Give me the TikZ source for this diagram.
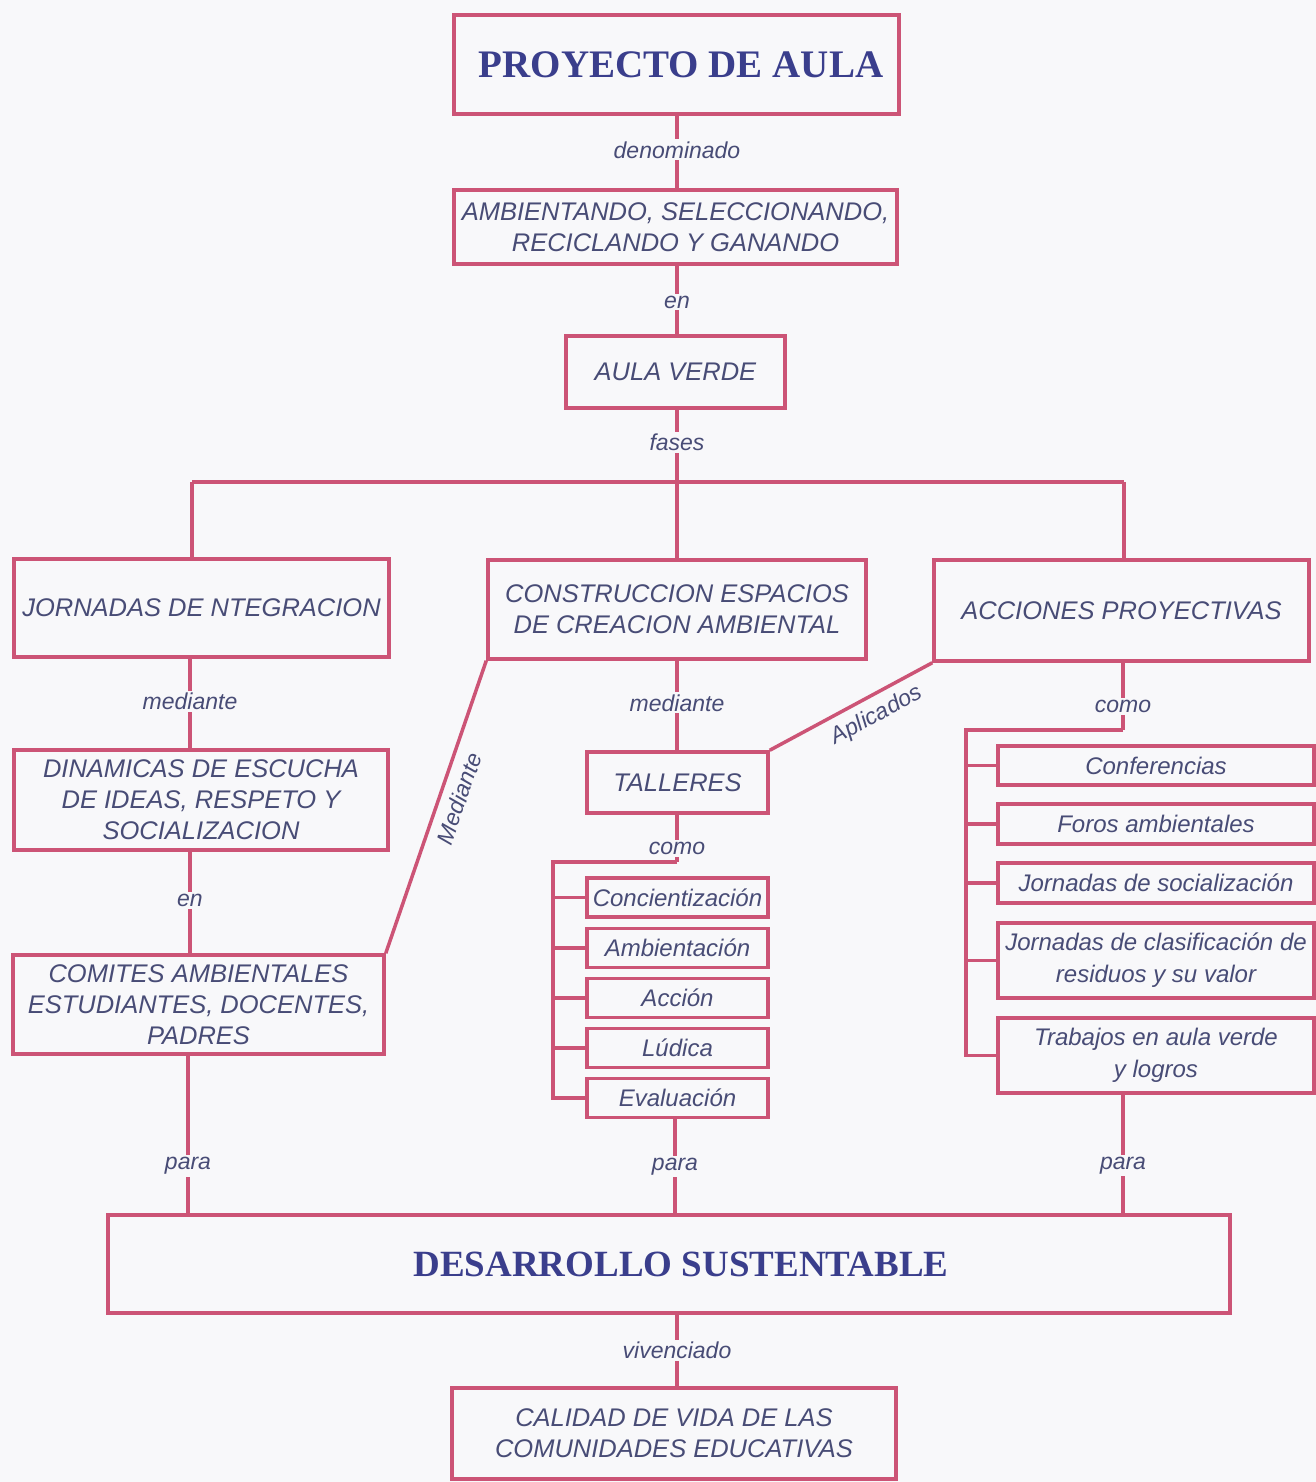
\documentclass[tikz,border=0pt]{standalone}
\usepackage{fontspec}
\setmainfont{Liberation Sans}
\newfontfamily\titlefont{Liberation Serif}
\definecolor{bg}{RGB}{248,248,250}
\definecolor{pinkline}{RGB}{204,84,118}
\definecolor{txt}{RGB}{72,76,118}
\definecolor{navy}{RGB}{58,62,140}
\tikzset{
  box/.style={draw=pinkline, line width=3.5pt, fill=bg, inner sep=0pt, align=center,
    text=txt, font=\itshape\fontsize{25.5}{31}\selectfont},
  itembox/.style={box, font=\itshape\fontsize{24}{32}\selectfont},
  titlebox/.style={box, text=navy, font=\titlefont\bfseries\fontsize{39}{44}\selectfont},
  conn/.style={draw=pinkline, line width=3.5pt},
  lbl/.style={fill=bg, inner sep=2pt, text=txt, font=\itshape\fontsize{23}{25}\selectfont},
  slbl/.style={text=txt, font=\itshape\fontsize{23}{25}\selectfont},
}
\begin{document}
\begin{tikzpicture}[x=1pt,y=-1pt]
\useasboundingbox (0,0) rectangle (1316,1482);
\fill[bg] (0,0) rectangle (1316,1482);

% top chain
\node[titlebox, minimum width=445, minimum height=99] (pa) at (676.5,64.5) {\hspace*{9pt}PROYECTO DE AULA};
\node[box, minimum width=443, minimum height=74] (amb) at (675.5,227) {AMBIENTANDO, SELECCIONANDO,\\RECICLANDO Y GANANDO};
\node[box, minimum width=219, minimum height=72] (aula) at (675.5,372) {AULA VERDE};

% three phases
\node[box, minimum width=375, minimum height=98] (jorn) at (201.5,608) {JORNADAS DE NTEGRACION};
\node[box, minimum width=378, minimum height=99] (cons) at (677,609.5) {CONSTRUCCION ESPACIOS\\DE CREACION AMBIENTAL};
\node[box, minimum width=375, minimum height=101] (acc) at (1121.5,610.5) {ACCIONES PROYECTIVAS};

% left column
\node[box, minimum width=374, minimum height=100] (din) at (201,800) {DINAMICAS DE ESCUCHA\\DE IDEAS, RESPETO Y\\SOCIALIZACION};
\node[box, minimum width=371, minimum height=99] (com) at (198.5,1004.5) {COMITES AMBIENTALES\\ESTUDIANTES, DOCENTES,\\PADRES};

% middle column
\node[box, minimum width=181, minimum height=61] (tall) at (677.5,782.5) {TALLERES};
\node[itembox, minimum width=181, minimum height=39] (i1) at (677.5,897.5) {Concientización};
\node[itembox, minimum width=181, minimum height=39] (i2) at (677.5,948) {Ambientación};
\node[itembox, minimum width=181, minimum height=39] (i3) at (677.5,998) {Acción};
\node[itembox, minimum width=181, minimum height=39] (i4) at (677.5,1048) {Lúdica};
\node[itembox, minimum width=181, minimum height=39] (i5) at (677.5,1098) {Evaluación};

% right column
\node[itembox, minimum width=316, minimum height=39] (r1) at (1156,765.5) {Conferencias};
\node[itembox, minimum width=316, minimum height=40] (r2) at (1156,824) {Foros ambientales};
\node[itembox, minimum width=316, minimum height=40] (r3) at (1156,883) {Jornadas de socialización};
\node[itembox, minimum width=316, minimum height=75] (r4) at (1156,960.5) {Jornadas de clasificación de\\residuos y su valor};
\node[itembox, minimum width=316, minimum height=75] (r5) at (1156,1055.5) {Trabajos en aula verde\\y logros};

% bottom
\node[titlebox, minimum width=1122, minimum height=98, font=\titlefont\bfseries\fontsize{37}{42}\selectfont] (des) at (669,1264) {\hspace*{24pt}DESARROLLO SUSTENTABLE};
\node[box, minimum width=444, minimum height=91] (cal) at (674,1433.5) {CALIDAD DE VIDA DE LAS\\COMUNIDADES EDUCATIVAS};

% helper coordinates
\coordinate (bar) at (677,482);
\coordinate (bl) at (192,482);
\coordinate (br) at (1124,482);
\coordinate (lx) at (190,0);
\coordinate (lx2) at (188,0);
\coordinate (mx) at (677,0);
\coordinate (mx2) at (675,0);
\coordinate (rx) at (1123,0);
\coordinate (mt) at (677,862);
\coordinate (ml) at (553,862);
\coordinate (rt) at (1123,730);
\coordinate (rl) at (966,730);

% top connectors
\draw[conn] (pa.south -| mx) -- (amb.north -| mx) node[lbl, pos=0.47] {denominado};
\draw[conn] (amb.south -| mx) -- (aula.north -| mx) node[lbl, pos=0.53] {en};
\draw[conn] (aula.south -| mx) -- (bar) node[lbl, pos=0.45] {fases};
\draw[conn] (bl) -- (br);
\draw[conn] (bl) -- (bl |- jorn.north);
\draw[conn] (bar) -- (cons.north -| bar);
\draw[conn] (br) -- (br |- acc.north);

% left column connectors
\draw[conn] (jorn.south -| lx) -- (din.north -| lx) node[lbl, pos=0.48] {mediante};
\draw[conn] (din.south -| lx) -- (com.north -| lx) node[lbl, pos=0.48] {en};
\draw[conn] (com.south -| lx2) -- (des.north -| lx2) node[lbl, pos=0.70] {para};

% diagonals
\draw[conn] (com.north east) -- (cons.south west) node[slbl, sloped, below, inner sep=9pt, pos=0.55] {Mediante};
\draw[conn] (tall.north east) -- (acc.south west) node[slbl, sloped, below, inner sep=8pt, pos=0.6] {Aplicados};

% middle column connectors
\draw[conn] (cons.south -| mx) -- (tall.north -| mx) node[lbl, pos=0.47] {mediante};
\draw[conn] (tall.south -| mx) -- (mt) node[lbl, pos=0.72] {como};
\draw[conn] (mt) -- (ml) -- (ml |- i5.west) -- (i5.west);
\foreach \n in {i1,i2,i3,i4} \draw[conn] (ml |- \n.west) -- (\n.west);
\draw[conn] (i5.south -| mx2) -- (des.north -| mx2) node[lbl, pos=0.5] {para};

% right column connectors
\draw[conn] (acc.south -| rt) -- (rt) node[lbl, pos=0.65] {como};
\draw[conn] (rt) -- (rl) -- (rl |- r5.west) -- (r5.west);
\foreach \n in {r1,r2,r3,r4} \draw[conn] (rl |- \n.west) -- (\n.west);
\draw[conn] (r5.south -| rx) -- (des.north -| rx) node[lbl, pos=0.6] {para};

% bottom
\draw[conn] (des.south -| mx) -- (cal.north -| mx) node[lbl, pos=0.5] {vivenciado};
\end{tikzpicture}
\end{document}
